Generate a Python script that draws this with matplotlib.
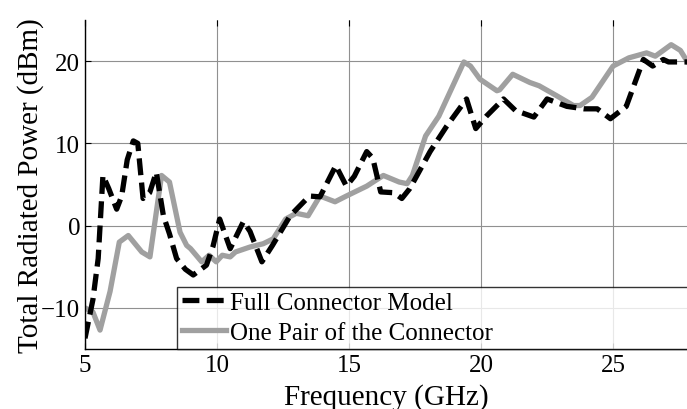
import matplotlib.pyplot as plt

plt.rcParams['font.family'] = ['Liberation Serif', 'DejaVu Serif']

# Full connector model (GHz, dBm)
full_freq = [5.0, 5.3, 5.5, 5.68, 5.9, 6.2, 6.39, 6.6, 6.83, 7.0, 7.2, 7.45, 7.7,
             7.97, 8.2, 8.47, 8.8, 9.1, 9.6, 9.85, 10.1, 10.5, 11.0, 11.25, 11.7,
             12.1, 12.77, 13.5, 13.9, 14.5, 14.9, 15.2, 15.67, 15.9, 16.2, 16.7,
             17.0, 17.3, 18.07, 18.7, 19.45, 19.8, 20.2, 20.85, 21.3, 22.0, 22.5,
             23.25, 23.9, 24.4, 24.9, 25.5, 26.15, 26.5, 26.9, 27.1, 27.8]
full_power = [-13.7, -9.0, -4.0, 6.1, 4.5, 2.0, 3.6, 8.0, 10.3, 10.0, 3.3, 4.0, 6.5,
              1.2, -1.0, -4.0, -5.3, -6.0, -4.8, -2.5, 0.8, -2.8, 0.5, -0.7, -4.4,
              -2.4, 1.2, 3.6, 3.5, 7.3, 4.8, 6.0, 9.0, 8.2, 4.1, 4.0,
              3.3, 4.5, 9.0, 12.1, 15.4, 11.8, 13.3, 15.4, 14.0, 13.2, 15.4,
              14.5, 14.2, 14.2, 13.0, 14.5, 20.2, 19.4, 20.2, 19.9, 19.9]

# Single pair of the connector (GHz, dBm)
pair_freq = [5.0, 5.3, 5.57, 5.95, 6.3, 6.64, 7.15, 7.46, 7.9, 8.2, 8.6, 8.85, 9.0,
             9.42, 9.7, 9.97, 10.2, 10.5, 10.7, 11.25, 11.75, 12.13, 12.6, 13.0,
             13.45, 13.9, 14.47, 14.9, 15.67, 16.3, 16.9, 17.2, 17.4, 17.9, 18.4,
             19.35, 19.6, 19.96, 20.6, 20.7, 21.2, 21.85, 22.2, 22.86, 23.5,
             23.75, 24.2, 25.0, 25.6, 26.27, 26.6, 27.2, 27.55, 27.8]
pair_power = [-10.0, -10.5, -12.7, -8.0, -2.0, -1.2, -3.2, -3.8, 6.1, 5.3, -0.8,
              -2.4, -2.8, -4.4, -3.6, -4.4, -3.6, -3.8, -3.2, -2.6, -2.2, -1.6,
              0.8, 1.5, 1.2, 3.6, 2.9, 3.6, 4.8, 6.1, 5.3, 5.1, 6.1, 10.9, 13.3,
              19.9, 19.4, 17.8, 16.4, 16.5, 18.4, 17.4, 17.0, 15.8, 14.6,
              14.6, 15.6, 19.4, 20.4, 21.0, 20.6, 22.0, 21.3, 20.0]

x_ticks = [5, 10, 15, 20, 25]
y_ticks = [-10, 0, 10, 20]

fig = plt.figure(figsize=(6.87, 4.10), dpi=100)
ax = fig.add_axes([0.1237, 0.1463, 0.8763, 0.8025])

ax.plot(full_freq, full_power, color='black', linewidth=3.8,
        dashes=(3.2, 1.4), label='Full Connector Model', zorder=3)
ax.plot(pair_freq, pair_power, color='#a0a0a0', linewidth=3.8,
        label='One Pair of the Connector', zorder=2)

ax.set_xlim(5, 27.8)
ax.set_ylim(-15, 25)
ax.set_xticks(x_ticks)
ax.set_yticks(y_ticks)
ax.grid(True, color='#909090', linewidth=0.8)
ax.tick_params(direction='in', labelsize=18, length=4, width=0.8, top=True)
for side in ('top', 'right'):
    ax.spines[side].set_visible(False)
for side in ('left', 'bottom'):
    ax.spines[side].set_linewidth(1.0)

ax.set_xlabel('Frequency (GHz)', fontsize=21, labelpad=5)
ax.set_ylabel('Total Radiated Power (dBm)', fontsize=21, labelpad=-2)

leg = ax.legend(loc='lower left', bbox_to_anchor=(0.153, 0.0, 1.0, 0.2),
                mode='expand', fontsize=18, frameon=True, fancybox=False,
                borderaxespad=0, handlelength=1.75, handletextpad=0.15,
                labelspacing=0.3, borderpad=0.2)
leg.get_frame().set_edgecolor('black')
leg.get_frame().set_linewidth(1.0)

fig.savefig('out.png', dpi=100)
